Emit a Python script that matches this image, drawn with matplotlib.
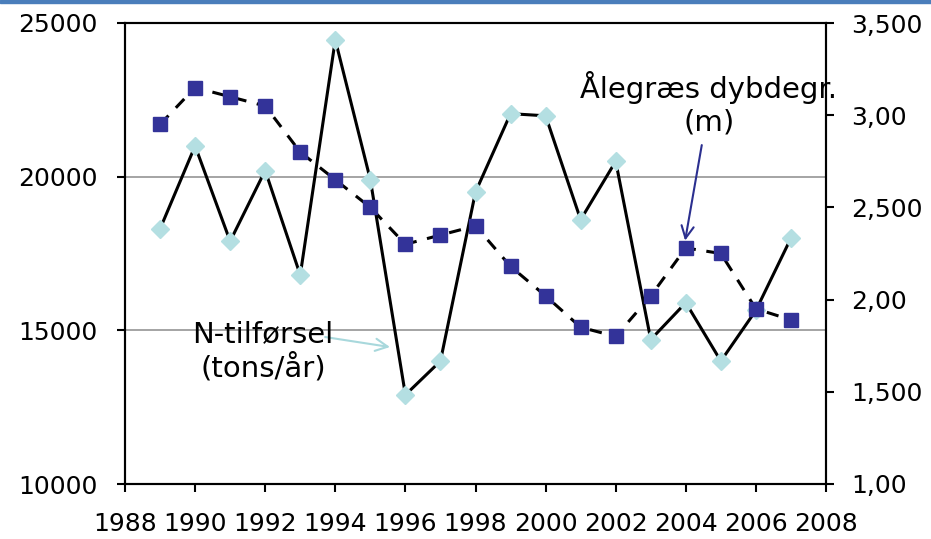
import matplotlib.pyplot as plt
from matplotlib.patches import Rectangle
from matplotlib.ticker import FixedLocator, FixedFormatter

plt.rcParams.update({
    'font.family': 'DejaVu Sans',
    'font.size': 18,
})

# Data
years = [1989, 1990, 1991, 1992, 1993, 1994, 1995, 1996, 1997, 1998,
         1999, 2000, 2001, 2002, 2003, 2004, 2005, 2006, 2007]
n_tilfoersel = [18300, 21000, 17900, 20200, 16800, 24450, 19900, 12900, 14000, 19500,
                22050, 21980, 18600, 20500, 14700, 15900, 14000, 15650, 18000]
aalegraes = [2.95, 3.15, 3.10, 3.05, 2.80, 2.65, 2.50, 2.30, 2.35, 2.40,
             2.18, 2.02, 1.85, 1.80, 2.02, 2.28, 2.25, 1.95, 1.89]

x_ticks = list(range(1988, 2009, 2))
left_ticks = [10000, 15000, 20000, 25000]
right_ticks = [1.0, 1.5, 2.0, 2.5, 3.0, 3.5]
right_labels = ['1,00', '1,500', '2,00', '2,500', '3,00', '3,500']

fig = plt.figure(figsize=(9.31, 5.39), dpi=100)
ax1 = fig.add_axes([125 / 931, 1 - 484 / 539, (826 - 125) / 931, (484 - 23) / 539])

# thin blue band along the top edge
fig.patches.append(Rectangle((0, 1 - 3 / 539), 1, 3 / 539, transform=fig.transFigure,
                             color='#4A7EBB', zorder=10))

ax1.plot(years, n_tilfoersel, color='black', lw=2.2, marker='D', ms=9,
         mfc='#B4DFE2', mec='#B4DFE2', zorder=3)
ax1.set_xlim(1988, 2008)
ax1.set_ylim(10000, 25000)
ax1.xaxis.set_major_locator(FixedLocator(x_ticks))
ax1.yaxis.set_major_locator(FixedLocator(left_ticks))
ax1.grid(axis='y', color='#8C8C8C', lw=1.1)
ax1.set_axisbelow(True)

ax2 = ax1.twinx()
ax2.plot(years, aalegraes, color='black', lw=2.2, ls=(0, (4, 3.5)), marker='s', ms=10.5,
         mfc='#333399', mec='#333399', zorder=3)
ax2.set_ylim(1.0, 3.5)
ax2.yaxis.set_major_locator(FixedLocator(right_ticks))
ax2.yaxis.set_major_formatter(FixedFormatter(right_labels))

for ax in (ax1, ax2):
    for sp in ax.spines.values():
        sp.set_color('black')
        sp.set_linewidth(1.5)
ax1.tick_params(axis='x', direction='out', length=6, width=1.5, pad=14, labelsize=18)
ax1.tick_params(axis='y', direction='out', length=6, width=1.5, pad=14, labelsize=18)
ax2.tick_params(axis='y', direction='out', length=6, width=1.5, pad=12, labelsize=18)

# labels with arrows
ax2.annotate('Ålegræs dybdegr.\n(m)', xy=(2003.98, 2.32), xytext=(2004.66, 3.06),
             ha='center', va='center', fontsize=21, linespacing=1.2,
             arrowprops=dict(arrowstyle='->', color='#2B2F8F', lw=1.5,
                             mutation_scale=22, shrinkA=4, shrinkB=0))
ax1.text(1991.94, 14330, 'N-tilførsel\n(tons/år)', ha='center', va='center',
         fontsize=21, linespacing=1.2, zorder=4)
ax1.annotate('', xy=(1995.56, 14456), xytext=(1993.71, 14782),
             arrowprops=dict(arrowstyle='->', color='#A8D8DC', lw=1.5,
                             mutation_scale=22, shrinkA=0, shrinkB=0))

fig.savefig('out.png', dpi=100)
